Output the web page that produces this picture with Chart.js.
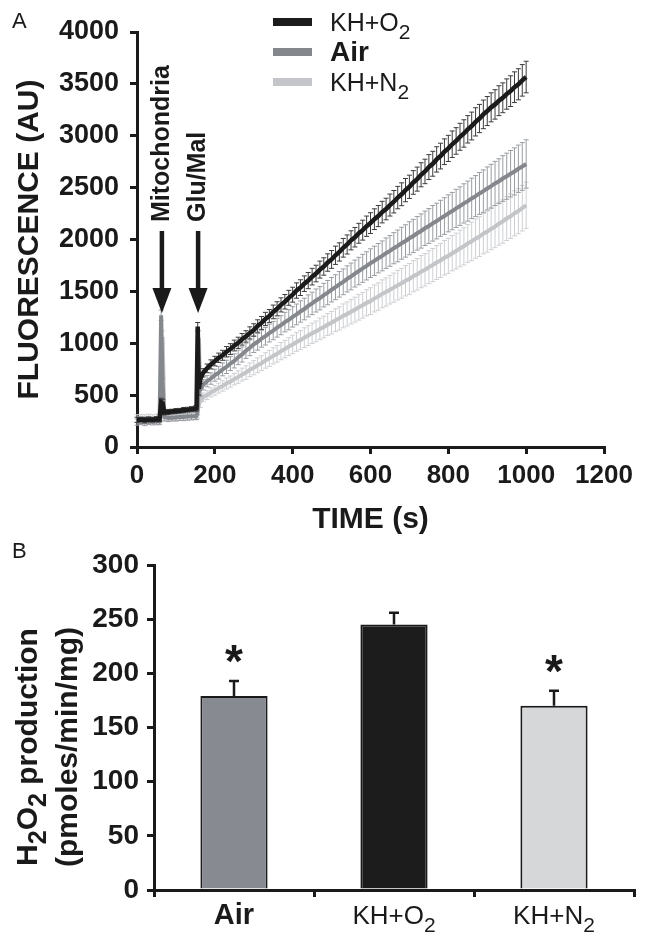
<!DOCTYPE html>
<html>
<head>
<meta charset="utf-8">
<script src="https://cdn.jsdelivr.net/npm/chart.js@4.4.1/dist/chart.umd.min.js"></script>
<style>
  html, body { margin: 0; padding: 0; background: #fff; }
  #wrap { position: relative; width: 650px; height: 940px; }
  canvas { position: absolute; left: 0; }
  #cA { top: 0; }
  #cB { top: 535px; }
</style>
</head>
<body>
<div id="wrap">
  <canvas id="cA" width="650" height="545" style="width:650px;height:545px"></canvas>
  <canvas id="cB" width="650" height="405" style="width:650px;height:405px"></canvas>
</div>
<script>
// Panel A: fluorescence traces (AU) vs time (s)
const times = [0,10,20,30,40,50,58,62,66,70,80,90,100,110,120,130,140,150,153,156,159,163,
  170,180,190,200,210,220,230,240,250,
  260,270,280,290,300,310,320,330,340,350,
  360,370,380,390,400,410,420,430,440,450,
  460,470,480,490,500,510,520,530,540,550,
  560,570,580,590,600,610,620,630,640,650,
  660,670,680,690,700,710,720,730,740,750,
  760,770,780,790,800,810,820,830,840,850,
  860,870,880,890,900,910,920,930,940,950,
  960,970,980,990,1000];

const khO2 = [262,265,260,266,263,268,268,430,420,335,338,342,346,350,356,360,365,370,375,1160,560,660,
  715,758,796,828,860,884,918,944,978,
  1004,1038,1066,1100,1128,1166,1196,1234,1262,1302,
  1332,1370,1400,1438,1468,1508,1536,1574,1604,1642,
  1672,1710,1740,1778,1808,1848,1880,1920,1952,1992,
  2022,2060,2090,2128,2158,2196,2226,2264,2294,2332,
  2364,2404,2436,2476,2508,2550,2582,2624,2656,2698,
  2730,2772,2804,2846,2878,2918,2950,2990,3022,3062,
  3094,3134,3166,3206,3238,3274,3302,3338,3366,3402,
  3430,3468,3496,3534,3566];
const khO2Err = [25,22,26,24,22,25,25,40,40,25,24,22,24,22,25,23,24,25,25,40,60,50,
  40,42,44,46,45,48,50,52,52,
  54,56,55,58,60,60,62,64,63,66,
  68,68,70,72,72,74,76,75,78,80,
  80,82,84,84,86,88,88,90,92,92,
  94,96,96,98,100,100,102,104,104,106,
  108,108,110,112,112,114,116,116,118,120,
  120,122,124,124,126,128,128,130,132,132,
  134,136,136,138,140,140,142,144,144,146,
  148,148,150,152,152];

const air = [240,244,238,246,241,245,245,1270,600,290,280,283,285,289,290,293,295,298,300,360,700,560,
  600,634,660,692,716,748,772,804,830,
  864,892,928,956,990,1014,1044,1068,1098,1122,
  1150,1174,1204,1226,1254,1278,1306,1330,1360,1384,
  1412,1434,1464,1488,1516,1540,1568,1592,1620,1644,
  1672,1696,1722,1746,1772,1794,1820,1842,1868,1890,
  1916,1938,1964,1986,2012,2034,2060,2082,2108,2130,
  2156,2178,2204,2226,2252,2274,2300,2322,2348,2370,
  2396,2418,2444,2466,2492,2514,2540,2562,2588,2610,
  2634,2656,2682,2704,2728];
const airErr = [30,28,32,30,28,30,30,50,60,40,35,33,35,34,36,35,34,35,35,50,80,70,
  50,54,55,58,61,62,64,67,68,
  70,73,74,76,79,80,82,85,86,88,
  91,92,94,97,98,100,103,104,106,108,
  111,112,114,117,118,120,123,124,126,129,
  130,132,135,136,138,141,142,144,147,148,
  150,153,154,156,159,160,162,165,166,168,
  171,172,174,177,178,180,184,186,189,193,
  195,198,202,204,207,211,213,216,220,222,
  224,227,228,230,233];

const khN2 = [276,280,274,282,277,280,280,520,1060,300,290,292,294,296,298,300,302,304,306,330,1050,440,
  480,500,526,546,568,588,612,630,654,
  674,698,718,744,764,788,808,834,854,878,
  898,924,944,968,988,1012,1030,1054,1074,1096,
  1114,1138,1156,1180,1198,1222,1240,1264,1282,1304,
  1324,1346,1366,1390,1406,1432,1450,1476,1494,1516,
  1536,1560,1578,1602,1620,1646,1664,1690,1708,1734,
  1754,1778,1798,1824,1842,1868,1888,1914,1934,1962,
  1982,2008,2028,2056,2076,2102,2124,2152,2174,2202,
  2224,2252,2274,2302,2330];
const khN2Err = [35,32,36,34,33,35,35,60,60,40,36,35,37,36,35,37,36,36,36,50,70,60,
  40,43,44,47,48,50,53,54,56,
  60,62,65,66,68,71,72,74,77,78,
  80,83,84,86,89,90,92,95,96,98,
  100,103,104,106,109,110,112,115,116,118,
  120,123,124,126,129,130,132,135,136,138,
  140,143,144,146,149,150,152,155,156,158,
  160,163,164,166,169,170,173,177,179,182,
  185,189,191,194,198,200,203,207,209,212,
  214,217,218,220,223];

const xTicks = { min: 0, max: 1200, step: 200 };
const yTicksA = { min: 0, max: 4000, step: 500 };
const additions = [{ label: 'Mitochondria', t: 64 }, { label: 'Glu/Mal', t: 157 }];

// Panel B: H2O2 production, mean + SEM
const groups = ['Air', 'KH+O2', 'KH+N2'];
const h2o2 = [179, 245, 170];
const h2o2Sem = [14, 11, 14];
const signif = ['*', '', '*'];
const yTicksB = { min: 0, max: 300, step: 50 };

const FONT = "'Liberation Sans', Arial, Helvetica, sans-serif";
const INK = '#1a1a1a';

// text with subscript pieces, a piece starting with "_" is a subscript
function richText(ctx, parts, x, y, size, weight, align) {
  const sub = Math.round(size * 0.82);
  let w = 0;
  const segs = parts.map(p => {
    const isSub = p[0] === '_';
    const t = isSub ? p.slice(1) : p;
    ctx.font = `${weight} ${isSub ? sub : size}px ${FONT}`;
    const m = ctx.measureText(t).width;
    w += m;
    return { t, isSub, m };
  });
  let cx = align === 'center' ? x - w / 2 : align === 'right' ? x - w : x;
  ctx.textAlign = 'left';
  ctx.textBaseline = 'alphabetic';
  segs.forEach(s => {
    ctx.font = `${weight} ${s.isSub ? sub : size}px ${FONT}`;
    ctx.fillText(s.t, cx, y + (s.isSub ? size * 0.3 : 0));
    cx += s.m;
  });
}
const subParts = name => /\d$/.test(name) ? [name.slice(0, -1), '_' + name.slice(-1)] : [name];
const plain = v => String(v);

const errBars = {
  id: 'errBars',
  beforeDatasetDraw(chart, args) {
    const ds = chart.data.datasets[args.index];
    if (!ds.err) return;
    const ys = chart.scales.y, ctx = chart.ctx;
    ctx.save();
    ctx.strokeStyle = ds.errColor;
    ctx.lineWidth = 1;
    args.meta.data.forEach((el, i) => {
      const v = ds.data[i].y, e = ds.err[i];
      const top = ys.getPixelForValue(v + e), bot = ys.getPixelForValue(v - e);
      ctx.beginPath();
      ctx.moveTo(el.x, top); ctx.lineTo(el.x, bot);
      ctx.moveTo(el.x - 2.5, top); ctx.lineTo(el.x + 2.5, top);
      ctx.moveTo(el.x - 2.5, bot); ctx.lineTo(el.x + 2.5, bot);
      ctx.stroke();
    });
    ctx.restore();
  }
};

const panelA = {
  id: 'panelA',
  afterDraw(chart) {
    const ctx = chart.ctx, xs = chart.scales.x;
    ctx.save();
    ctx.fillStyle = INK;
    ctx.font = `22px ${FONT}`;
    ctx.textAlign = 'left';
    ctx.textBaseline = 'alphabetic';
    ctx.fillText('A', 12, 28);

    // additions: rotated label + arrow
    additions.forEach(a => {
      const cx = xs.getPixelForValue(a.t);
      ctx.save();
      ctx.translate(cx, 222);
      ctx.rotate(-Math.PI / 2);
      ctx.font = `bold 25px ${FONT}`;
      ctx.textAlign = 'left';
      ctx.textBaseline = 'middle';
      ctx.fillText(a.label, 0, 0);
      ctx.restore();
      ctx.strokeStyle = INK;
      ctx.lineWidth = 4.5;
      ctx.beginPath();
      ctx.moveTo(cx, 231); ctx.lineTo(cx, 292);
      ctx.stroke();
      ctx.beginPath();
      ctx.moveTo(cx - 9.5, 288); ctx.lineTo(cx + 9.5, 288); ctx.lineTo(cx, 313);
      ctx.closePath();
      ctx.fill();
    });

    // legend
    chart.data.datasets.forEach((ds, i) => {
      const y = 22 + i * 30;
      ctx.strokeStyle = ds.borderColor;
      ctx.lineWidth = 8;
      ctx.beginPath();
      ctx.moveTo(273, y); ctx.lineTo(312, y);
      ctx.stroke();
      ctx.fillStyle = INK;
      richText(ctx, subParts(ds.label), 330, y + 9, ds.label === 'Air' ? 28 : 25,
        ds.label === 'Air' ? 'bold' : 'normal', 'left');
    });
    ctx.restore();
  }
};

const pts = v => times.map((t, i) => ({ x: t, y: v[i] }));

new Chart(document.getElementById('cA'), {
  type: 'line',
  data: {
    datasets: [
      { label: 'KH+O2', data: pts(khO2), err: khO2Err, borderColor: '#1b1b1b', errColor: '#3c3c3c', borderWidth: 4.5 },
      { label: 'Air', data: pts(air), err: airErr, borderColor: '#84888d', errColor: '#999da2', borderWidth: 4 },
      { label: 'KH+N2', data: pts(khN2), err: khN2Err, borderColor: '#c3c5c8', errColor: '#cdcfd2', borderWidth: 4 }
    ]
  },
  options: {
    responsive: false,
    animation: false,
    elements: { point: { radius: 0 }, line: { tension: 0 } },
    layout: { padding: { left: 0, right: 46, top: 32, bottom: 0 } },
    plugins: { legend: { display: false }, tooltip: { enabled: false } },
    scales: {
      x: {
        type: 'linear', min: xTicks.min, max: xTicks.max,
        ticks: { stepSize: xTicks.step, callback: plain, color: INK, font: { family: FONT, size: 26, weight: 'bold' }, padding: 6, maxRotation: 0, autoSkip: false },
        grid: { drawOnChartArea: false, color: INK, lineWidth: 3, tickLength: 7 },
        border: { color: INK, width: 3 },
        title: { display: true, text: 'TIME (s)', color: INK, font: { family: FONT, size: 30, weight: 'bold' }, padding: { top: 0, bottom: 7 } },
        afterFit(s) { s.height = 98; }
      },
      y: {
        min: yTicksA.min, max: yTicksA.max,
        ticks: { stepSize: yTicksA.step, callback: plain, color: INK, font: { family: FONT, size: 27, weight: 'bold' }, padding: 11 },
        grid: { drawOnChartArea: false, color: INK, lineWidth: 3, tickLength: 7 },
        border: { color: INK, width: 3 },
        title: { display: true, text: 'FLUORESCENCE (AU)', color: INK, font: { family: FONT, size: 30, weight: 'bold' }, padding: { top: 12, bottom: 0 } },
        afterFit(s) { s.width = 137; }
      }
    }
  },
  plugins: [errBars, panelA]
});

const panelB = {
  id: 'panelB',
  afterDraw(chart) {
    const ctx = chart.ctx, xs = chart.scales.x, ys = chart.scales.y;
    const ds = chart.data.datasets[0];
    ctx.save();
    ctx.fillStyle = INK;
    ctx.font = `22px ${FONT}`;
    ctx.textAlign = 'left';
    ctx.textBaseline = 'alphabetic';
    ctx.fillText('B', 12, 23);

    ds.data.forEach((v, i) => {
      const x = xs.getPixelForValue(i);
      const top = ys.getPixelForValue(v + ds.err[i]);
      ctx.strokeStyle = INK;
      ctx.lineWidth = 2.5;
      ctx.beginPath();
      ctx.moveTo(x, ys.getPixelForValue(v)); ctx.lineTo(x, top);
      ctx.moveTo(x - 5, top); ctx.lineTo(x + 5, top);
      ctx.stroke();
      if (signif[i]) {
        ctx.font = `bold 46px ${FONT}`;
        ctx.textAlign = 'center';
        ctx.textBaseline = 'alphabetic';
        const m = ctx.measureText(signif[i]);
        const cy = top - 27;
        ctx.fillText(signif[i], x, cy + (m.actualBoundingBoxAscent - m.actualBoundingBoxDescent) / 2);
      }
      const name = chart.data.labels[i];
      richText(ctx, subParts(name), x, 389, name === 'Air' ? 29 : 26, name === 'Air' ? 'bold' : 'normal', 'center');
    });

    // y title with subscripts
    ctx.save();
    ctx.translate(37, 212);
    ctx.rotate(-Math.PI / 2);
    richText(ctx, ['H', '_2', 'O', '_2', ' production'], 0, 0, 30, 'bold', 'center');
    ctx.restore();
    ctx.save();
    ctx.translate(77, 212);
    ctx.rotate(-Math.PI / 2);
    richText(ctx, ['(pmoles/min/mg)'], 0, 0, 30, 'bold', 'center');
    ctx.restore();
    ctx.restore();
  }
};

new Chart(document.getElementById('cB'), {
  type: 'bar',
  data: {
    labels: groups,
    datasets: [{
      data: h2o2, err: h2o2Sem,
      backgroundColor: ['#878b91', '#1c1c1c', '#d6d7d9'],
      borderColor: INK, borderWidth: 2,
      barPercentage: 0.42, categoryPercentage: 1
    }]
  },
  options: {
    responsive: false,
    animation: false,
    layout: { padding: { left: 0, right: 16, top: 30, bottom: 0 } },
    plugins: { legend: { display: false }, tooltip: { enabled: false } },
    scales: {
      x: {
        ticks: { display: false },
        grid: { drawOnChartArea: false, color: INK, lineWidth: 3, tickLength: 7, offset: true },
        border: { color: INK, width: 3 },
        afterFit(s) { s.height = 50; }
      },
      y: {
        min: yTicksB.min, max: yTicksB.max,
        ticks: { stepSize: yTicksB.step, callback: plain, color: INK, font: { family: FONT, size: 28, weight: 'bold' }, padding: 8 },
        grid: { drawOnChartArea: false, color: INK, lineWidth: 3, tickLength: 7 },
        border: { color: INK, width: 3 },
        afterFit(s) { s.width = 154; }
      }
    }
  },
  plugins: [panelB]
});
</script>
</body>
</html>
